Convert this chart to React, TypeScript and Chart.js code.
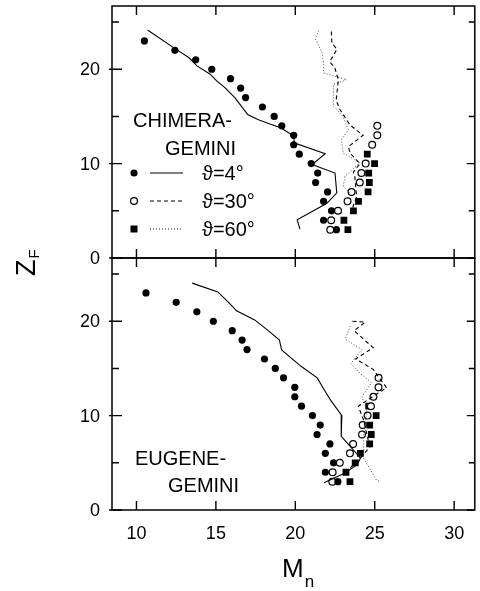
import React, { useEffect, useRef } from "react";
import { Chart, registerables } from "chart.js";

Chart.register(...registerables);

// ---------- data ----------
const xTicks = [10, 15, 20, 25, 30];
const yTicksMajor = [0, 10, 20];
const yTicksAll = [0, 5, 10, 15, 20, 25];

// CHIMERA-GEMINI (top panel)
const chimeraZ4 = [23, 22, 21, 20, 19, 18, 17, 16, 15, 14, 13, 12, 11, 10, 9, 8, 7, 6, 5, 4, 3];
const chimeraM4 = [10.5, 12.42, 13.73, 14.74, 15.92, 16.56, 16.87, 17.93, 18.67, 19.15, 19.9, 19.9, 20.25, 21.0, 21.41, 21.28, 22.03, 21.78, 22.28, 21.78, 22.59];
const chimeraZ30 = [14, 13, 12, 10, 9, 8, 7, 6, 5, 4, 3];
const chimeraM30 = [25.16, 25.16, 24.84, 24.43, 24.16, 24.06, 23.54, 23.29, 22.69, 22.26, 22.2];
const chimeraZ60 = [11, 10, 9, 8, 7, 6, 5, 4, 3];
const chimeraM60 = [24.53, 24.99, 24.62, 24.66, 24.58, 23.98, 23.66, 23.06, 23.31];

const chimeraLine4: [number, number][] = [
  [10.7, 24.15], [12.47, 22.13], [13.29, 21.24], [13.81, 20.35], [14.64, 19.47], [15.05, 18.76],
  [15.57, 18.05], [16.19, 16.99], [16.6, 16.1], [17.0, 15.2], [17.64, 14.68], [18.4, 14.2],
  [19.09, 13.8], [19.92, 12.9], [19.92, 12.2], [21.88, 11.06], [21.06, 9.9], [22.5, 9.0],
  [22.61, 6.9], [21.99, 5.8], [20.12, 4.04], [20.29, 3.05],
];
const chimeraLine30: [number, number][] = [
  [22.27, 24.0], [22.3, 22.8], [22.62, 22.1], [22.17, 20.8], [22.5, 20.1], [22.71, 18.85],
  [22.57, 16.7], [22.82, 15.7], [23.44, 14.1], [24.27, 13.0], [23.34, 11.8], [23.45, 11.1],
  [24.07, 10.0], [23.65, 9.1], [23.75, 8.6], [23.86, 6.5], [23.6, 5.3],
];
const chimeraLine60: [number, number][] = [
  [21.47, 24.1], [21.26, 23.2], [21.68, 21.8], [21.78, 20.7], [21.78, 19.6], [23.23, 18.9],
  [22.4, 18.4], [22.4, 16.1], [23.0, 15.0], [23.34, 13.6], [22.9, 12.5], [23.02, 11.1],
  [24.06, 10.07], [23.12, 8.65], [23.02, 7.6], [23.43, 6.9],
];

// EUGENE-GEMINI (bottom panel)
const eugeneZ4 = [23, 22, 21, 20, 19, 18, 17, 16, 15, 14, 13, 12, 11, 10, 9, 8, 7, 6, 5, 4, 3];
const eugeneM4 = [10.6, 12.5, 13.8, 14.84, 16.03, 16.65, 16.96, 18.06, 18.74, 19.26, 19.97, 19.97, 20.39, 21.08, 21.57, 21.37, 22.18, 21.89, 22.41, 21.89, 22.68];
const eugeneZ30 = [14, 13, 12, 11, 10, 9, 8, 7, 6, 5, 4, 3];
const eugeneM30 = [25.24, 25.24, 24.92, 24.76, 24.55, 24.24, 24.2, 23.64, 23.44, 22.8, 22.35, 22.33];
const eugeneZ60 = [11, 10, 9, 8, 7, 6, 5, 4, 3];
const eugeneM60 = [24.62, 25.09, 24.68, 24.78, 24.68, 24.1, 23.77, 23.19, 23.44];

const eugeneLine4: [number, number][] = [
  [13.51, 24.04], [15.12, 23.1], [15.8, 22.0], [16.3, 21.1], [17.44, 20.14], [18.3, 19.0],
  [19.0, 18.0], [19.14, 16.95], [20.34, 15.25], [21.38, 14.0], [21.8, 12.8], [22.2, 11.7],
  [22.93, 10.0], [22.89, 7.8], [23.46, 6.74], [24.1, 5.5], [23.9, 4.8], [23.1, 3.9], [21.8, 2.9],
];
const eugeneLine30: [number, number][] = [
  [23.6, 20.0], [24.4, 19.9], [23.7, 19.0], [24.9, 17.2], [23.8, 16.0], [24.9, 14.9],
  [25.75, 12.95], [24.9, 12.05], [23.97, 11.0], [24.3, 9.5], [24.5, 8.0], [24.7, 6.7],
  [24.1, 5.5], [23.3, 4.2],
];
const eugeneLine60: [number, number][] = [
  [23.46, 19.5], [23.15, 18.1], [24.18, 17.0], [23.5, 15.5], [24.06, 14.5], [24.8, 13.5],
  [24.2, 12.0], [24.5, 10.5], [24.3, 8.0], [24.3, 5.5], [25.1, 3.2], [25.3, 3.0],
];

const legendLabels = ["\u03D1=4\u00B0", "\u03D1=30\u00B0", "\u03D1=60\u00B0"];

// ---------- helpers ----------
const X_MIN = 8.46;
const X_MAX = 31.3;
const Y_MIN = 0;
const Y_MAX = 26.7;
const FONT = '"Liberation Sans", "DejaVu Sans", Arial, sans-serif';

const pts = (xs: number[], ys: number[]) => xs.map((x, i) => ({ x, y: ys[i] }));
const linePts = (arr: [number, number][]) => arr.map(([x, y]) => ({ x, y }));

function makeDatasets(
  m4: number[], z4: number[], m30: number[], z30: number[], m60: number[], z60: number[],
  l4: [number, number][], l30: [number, number][], l60: [number, number][]
) {
  return [
    { type: "line", data: linePts(l4), borderColor: "#000", borderWidth: 1.1, pointRadius: 0, fill: false, tension: 0 },
    { type: "line", data: linePts(l30), borderColor: "#000", borderWidth: 1.1, borderDash: [4, 3], pointRadius: 0, fill: false, tension: 0 },
    { type: "line", data: linePts(l60), borderColor: "#333", borderWidth: 0.9, borderDash: [1, 2], pointRadius: 0, fill: false, tension: 0 },
    { type: "scatter", data: pts(m4, z4), pointStyle: "circle", pointRadius: 3.6, backgroundColor: "#000", borderColor: "#000", borderWidth: 0 },
    { type: "scatter", data: pts(m30, z30), pointStyle: "circle", pointRadius: 3.4, backgroundColor: "#fff", borderColor: "#000", borderWidth: 1.2 },
    { type: "scatter", data: pts(m60, z60), pointStyle: "rect", pointRadius: 4.8, backgroundColor: "#000", borderColor: "#000", borderWidth: 0 },
  ];
}

function framePlugin(panel: "top" | "bottom") {
  return {
    id: "frame_" + panel,
    afterDatasetsDraw(chart: any) {
      const ctx = chart.ctx as CanvasRenderingContext2D;
      const { left, right, top, bottom } = chart.chartArea;
      const xs = chart.scales.x;
      const ys = chart.scales.y;
      ctx.save();
      ctx.strokeStyle = "#000";
      ctx.fillStyle = "#000";
      ctx.lineWidth = 1.5;
      ctx.strokeRect(left, top, right - left, bottom - top);

      // x ticks
      ctx.lineWidth = 1.4;
      ctx.beginPath();
      xTicks.forEach((v) => {
        const px = xs.getPixelForValue(v);
        ctx.moveTo(px, top);
        ctx.lineTo(px, top + 9);
        ctx.moveTo(px, bottom);
        ctx.lineTo(px, bottom - 9);
      });
      // y ticks left and right
      yTicksAll.forEach((v) => {
        const py = ys.getPixelForValue(v);
        const major = v % 10 === 0;
        ctx.moveTo(left - (major ? 3 : 0), py);
        ctx.lineTo(left + (major ? 10 : 7), py);
        ctx.moveTo(right, py);
        ctx.lineTo(right - (major ? 8 : 6), py);
      });
      ctx.stroke();

      // y tick labels
      ctx.font = "18px " + FONT;
      ctx.textAlign = "right";
      ctx.textBaseline = "middle";
      yTicksMajor.forEach((v) => {
        ctx.fillText(String(v), 100, ys.getPixelForValue(v) + 1);
      });

      // panel label & legend
      ctx.textAlign = "left";
      ctx.font = "20px " + FONT;
      if (panel === "top") {
        ctx.fillText("CHIMERA-", 133, 121);
        ctx.fillText("GEMINI", 165, 149);
        const rows = [173, 201, 229];
        rows.forEach((ry, i) => {
          // marker
          ctx.beginPath();
          if (i === 0) {
            ctx.arc(134, ry, 3.6, 0, Math.PI * 2);
            ctx.fill();
          } else if (i === 1) {
            ctx.lineWidth = 1.2;
            ctx.arc(134, ry, 3.4, 0, Math.PI * 2);
            ctx.stroke();
          } else {
            ctx.fillRect(130.5, ry - 3.5, 7, 7);
          }
          // line sample
          ctx.beginPath();
          ctx.lineWidth = i === 2 ? 0.9 : 1.1;
          ctx.setLineDash(i === 0 ? [] : i === 1 ? [4, 3] : [1, 2]);
          ctx.moveTo(150, ry);
          ctx.lineTo(183, ry);
          ctx.stroke();
          ctx.setLineDash([]);
          ctx.fillText(legendLabels[i], 202, ry + 1);
        });

        // Y axis title, rotated
        ctx.save();
        ctx.translate(35, 276);
        ctx.rotate(-Math.PI / 2);
        ctx.textAlign = "left";
        ctx.textBaseline = "alphabetic";
        ctx.font = "27px " + FONT;
        ctx.fillText("Z", 0, 0);
        const zw = ctx.measureText("Z").width;
        ctx.font = "15px " + FONT;
        ctx.fillText("F", zw + 1, 4);
        ctx.restore();
      } else {
        ctx.fillText("EUGENE-", 135, 459);
        ctx.fillText("GEMINI", 168, 486);

        // x tick labels
        ctx.font = "18px " + FONT;
        ctx.textAlign = "center";
        ctx.textBaseline = "middle";
        xTicks.forEach((v) => {
          ctx.fillText(String(v), xs.getPixelForValue(v), 534);
        });

        // X axis title
        ctx.textAlign = "left";
        ctx.textBaseline = "alphabetic";
        ctx.font = "26px " + FONT;
        ctx.fillText("M", 282, 577);
        const mw = ctx.measureText("M").width;
        ctx.font = "17px " + FONT;
        ctx.fillText("n", 282 + mw + 1, 587);
      }
      ctx.restore();
    },
  };
}

function makeConfig(panel: "top" | "bottom", datasets: any[]) {
  const padding =
    panel === "top"
      ? { left: 112, right: 1, top: 6, bottom: 591 - 258 }
      : { left: 112, right: 1, top: 258, bottom: 591 - 510 };
  return {
    type: "scatter",
    data: { datasets },
    options: {
      animation: false,
      responsive: false,
      maintainAspectRatio: false,
      events: [],
      layout: { padding },
      plugins: { legend: { display: false }, tooltip: { enabled: false } },
      scales: {
        x: { type: "linear", min: X_MIN, max: X_MAX, display: false },
        y: { type: "linear", min: Y_MIN, max: Y_MAX, display: false },
      },
    },
    plugins: [framePlugin(panel)],
  } as any;
}

export default function App() {
  const topRef = useRef<HTMLCanvasElement | null>(null);
  const botRef = useRef<HTMLCanvasElement | null>(null);

  useEffect(() => {
    if (!topRef.current || !botRef.current) return;
    const topChart = new Chart(
      topRef.current,
      makeConfig(
        "top",
        makeDatasets(chimeraM4, chimeraZ4, chimeraM30, chimeraZ30, chimeraM60, chimeraZ60, chimeraLine4, chimeraLine30, chimeraLine60)
      )
    );
    const botChart = new Chart(
      botRef.current,
      makeConfig(
        "bottom",
        makeDatasets(eugeneM4, eugeneZ4, eugeneM30, eugeneZ30, eugeneM60, eugeneZ60, eugeneLine4, eugeneLine30, eugeneLine60)
      )
    );
    return () => {
      topChart.destroy();
      botChart.destroy();
    };
  }, []);

  const cstyle: React.CSSProperties = { position: "absolute", left: 0, top: 0, width: 480, height: 591, display: "block" };
  return (
    <div style={{ position: "absolute", left: 0, top: 0, width: 480, height: 591, background: "#fff" }}>
      <canvas ref={botRef} width={480} height={591} style={cstyle} />
      <canvas ref={topRef} width={480} height={591} style={cstyle} />
    </div>
  );
}
